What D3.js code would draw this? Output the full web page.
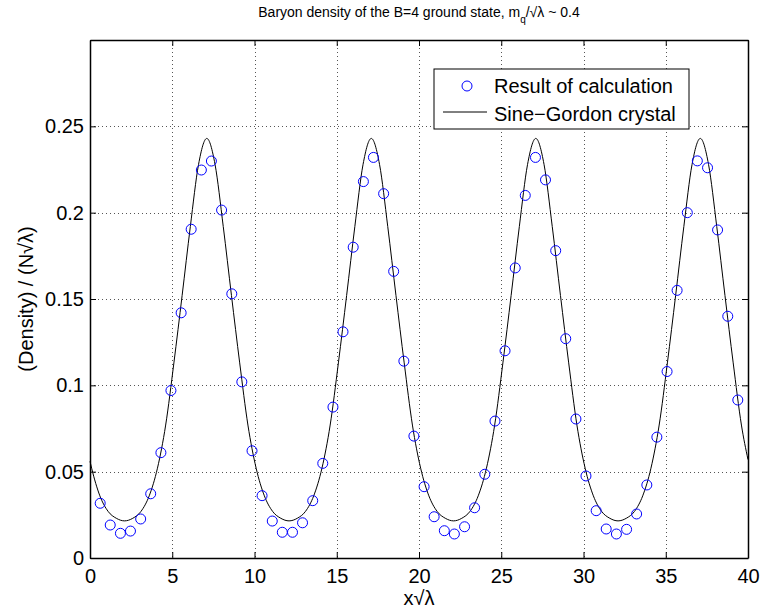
<!DOCTYPE html>
<html>
<head>
<meta charset="utf-8">
<script src="https://cdn.jsdelivr.net/npm/d3@7"></script>
<style>
  body { margin: 0; background: #fff; }
</style>
</head>
<body>
<div id="chart"></div>
<script>
// computed density at the lattice sites (x*sqrt(lambda))
const calcX = [0.62, 1.23, 1.85, 2.46, 3.08, 3.69, 4.31, 4.92, 5.54, 6.15, 6.77, 7.38, 8.0, 8.62, 9.23, 9.85,
  10.46, 11.08, 11.69, 12.31, 12.92, 13.54, 14.15, 14.77, 15.38, 16.0, 16.62, 17.23, 17.85, 18.46, 19.08, 19.69,
  20.31, 20.92, 21.54, 22.15, 22.77, 23.38, 24.0, 24.62, 25.23, 25.85, 26.46, 27.08, 27.69, 28.31, 28.92, 29.54,
  30.15, 30.77, 31.38, 32.0, 32.62, 33.23, 33.85, 34.46, 35.08, 35.69, 36.31, 36.92, 37.54, 38.15, 38.77, 39.38];
const calcDensity = [0.0317, 0.0191, 0.0143, 0.0156, 0.0226, 0.0372, 0.061, 0.097, 0.142, 0.1904, 0.2247, 0.2299, 0.2015, 0.153, 0.102, 0.0621,
  0.0361, 0.0214, 0.0149, 0.0149, 0.0204, 0.0332, 0.0548, 0.0874, 0.131, 0.18, 0.218, 0.232, 0.211, 0.166, 0.114, 0.0706,
  0.0413, 0.0239, 0.0158, 0.0139, 0.0181, 0.0291, 0.0485, 0.0793, 0.12, 0.168, 0.21, 0.232, 0.219, 0.178, 0.127, 0.0805,
  0.0475, 0.0274, 0.0168, 0.0139, 0.0166, 0.0255, 0.0423, 0.07, 0.108, 0.155, 0.2, 0.23, 0.226, 0.19, 0.14, 0.0915];

// sine-gordon crystal curve
const crystalX = [0, 0.1, 0.6, 1.1, 1.6, 2.1, 2.6, 3.1, 3.6, 4.1, 4.6, 5.1, 5.6, 6.1, 6.6, 7.1, 7.6, 8.1, 8.6, 9.1, 9.6,
  10.1, 10.6, 11.1, 11.6, 12.1, 12.6, 13.1, 13.6, 14.1, 14.6, 15.1, 15.6, 16.1, 16.6, 17.1, 17.6, 18.1, 18.6, 19.1, 19.6,
  20.1, 20.6, 21.1, 21.6, 22.1, 22.6, 23.1, 23.6, 24.1, 24.6, 25.1, 25.6, 26.1, 26.6, 27.1, 27.6, 28.1, 28.6, 29.1, 29.6,
  30.1, 30.6, 31.1, 31.6, 32.1, 32.6, 33.1, 33.6, 34.1, 34.6, 35.1, 35.6, 36.1, 36.6, 37.1, 37.6, 38.1, 38.6, 39.1, 39.6, 40];
const crystalDensity = [0.056, 0.052, 0.036, 0.027, 0.023, 0.0215, 0.023, 0.027, 0.036, 0.052, 0.077, 0.113, 0.152, 0.192, 0.228, 0.243, 0.228, 0.192, 0.152, 0.113, 0.077,
  0.052, 0.036, 0.027, 0.023, 0.0215, 0.023, 0.027, 0.036, 0.052, 0.077, 0.113, 0.152, 0.192, 0.228, 0.243, 0.228, 0.192, 0.152, 0.113, 0.077,
  0.052, 0.036, 0.027, 0.023, 0.0215, 0.023, 0.027, 0.036, 0.052, 0.077, 0.113, 0.152, 0.192, 0.228, 0.243, 0.228, 0.192, 0.152, 0.113, 0.077,
  0.052, 0.036, 0.027, 0.023, 0.0215, 0.023, 0.027, 0.036, 0.052, 0.077, 0.113, 0.152, 0.192, 0.228, 0.243, 0.228, 0.192, 0.152, 0.113, 0.077, 0.057];

const xTicks = [0, 5, 10, 15, 20, 25, 30, 35, 40];
const xTickLabels = ["0", "5", "10", "15", "20", "25", "30", "35", "40"];
const yTicks = [0, 0.05, 0.1, 0.15, 0.2, 0.25];
const yTickLabels = ["0", "0.05", "0.1", "0.15", "0.2", "0.25"];
const legendLabels = ["Result of calculation", "Sine\u2212Gordon crystal"];

const font = "'Liberation Sans', Arial, Helvetica, sans-serif";

const margin = { top: 40, right: 15, bottom: 58, left: 90 },
      width = 763 - margin.left - margin.right,
      height = 616 - margin.top - margin.bottom;

const root = d3.select("#chart")
  .append("svg")
  .attr("width", width + margin.left + margin.right)
  .attr("height", height + margin.top + margin.bottom)
  .style("font-family", font);

const svg = root.append("g")
  .attr("transform", `translate(${margin.left},${margin.top})`);

const x = d3.scaleLinear().domain([0, 40]).range([0, width]);
const y = d3.scaleLinear().domain([0, 0.3]).range([height, 0]);

// dotted grid
svg.selectAll(".vgrid")
  .data(xTicks.filter(d => d > 0 && d < 40))
  .enter().append("line")
  .attr("x1", d => Math.round(x(d)) + 0.5)
  .attr("x2", d => Math.round(x(d)) + 0.5)
  .attr("y1", 0)
  .attr("y2", height)
  .attr("stroke", "#555")
  .attr("stroke-dasharray", "1,3");

svg.selectAll(".hgrid")
  .data(yTicks.filter(d => d > 0))
  .enter().append("line")
  .attr("x1", 0)
  .attr("x2", width)
  .attr("y1", d => Math.round(y(d)) + 0.5)
  .attr("y2", d => Math.round(y(d)) + 0.5)
  .attr("stroke", "#555")
  .attr("stroke-dasharray", "1,3");

// crystal curve
const crystal = crystalX.map((v, i) => ({ x: v, d: crystalDensity[i] }));
const line = d3.line()
  .x(d => x(d.x))
  .y(d => y(d.d))
  .curve(d3.curveMonotoneX);

svg.append("path")
  .datum(crystal)
  .attr("d", line)
  .attr("fill", "none")
  .attr("stroke", "black")
  .attr("stroke-width", 1);

// calculation points
svg.selectAll(".pt")
  .data(calcX.map((v, i) => ({ x: v, d: calcDensity[i] })))
  .enter().append("circle")
  .attr("cx", d => x(d.x))
  .attr("cy", d => y(d.d))
  .attr("r", 5)
  .attr("fill", "none")
  .attr("stroke", "#0000ff")
  .attr("stroke-width", 1);

// axes, ticks pointing inward like matlab
function styleAxis(g) {
  g.select(".domain").attr("stroke-width", 1.5);
  g.selectAll("text").style("font-size", "20px").style("font-family", font).attr("fill", "#000");
}

svg.append("g")
  .attr("transform", `translate(0,${height})`)
  .call(d3.axisBottom(x).tickValues(xTicks).tickFormat((d, i) => xTickLabels[i])
    .tickSizeInner(-6).tickSizeOuter(0).tickPadding(11))
  .call(styleAxis);

svg.append("g")
  .call(d3.axisLeft(y).tickValues(yTicks).tickFormat((d, i) => yTickLabels[i])
    .tickSizeInner(-6).tickSizeOuter(0).tickPadding(6))
  .call(styleAxis);

svg.append("g")
  .call(d3.axisTop(x).tickValues(xTicks).tickFormat("").tickSizeInner(-6).tickSizeOuter(0))
  .call(styleAxis);

svg.append("g")
  .attr("transform", `translate(${width},0)`)
  .call(d3.axisRight(y).tickValues(yTicks).tickFormat("").tickSizeInner(-6).tickSizeOuter(0))
  .call(styleAxis);

// title
const title = svg.append("text")
  .attr("x", width / 2)
  .attr("y", -23)
  .attr("text-anchor", "middle")
  .style("font-size", "14px");
title.append("tspan").text("Baryon density of the B=4 ground state, m");
title.append("tspan").attr("dy", 6).style("font-size", "10px").text("q");
title.append("tspan").attr("dy", -6).text("/\u221A\u03BB ~ 0.4");

// axis labels
svg.append("text")
  .attr("x", width / 2)
  .attr("y", height + 47)
  .attr("text-anchor", "middle")
  .style("font-size", "20px")
  .text("x\u221A\u03BB");

svg.append("text")
  .attr("x", -height / 2)
  .attr("y", -margin.left + 33)
  .attr("text-anchor", "middle")
  .attr("transform", "rotate(-90)")
  .style("font-size", "20px")
  .text("(Density) / (N\u221A\u03BB)");

// legend
const legend = svg.append("g")
  .attr("transform", `translate(${width - 314},29)`);

legend.append("rect")
  .attr("x", 0)
  .attr("y", 0)
  .attr("width", 255)
  .attr("height", 60)
  .attr("fill", "white")
  .attr("stroke", "black")
  .attr("stroke-width", 1);

legend.append("circle")
  .attr("cx", 33)
  .attr("cy", 17)
  .attr("r", 5)
  .attr("fill", "none")
  .attr("stroke", "#0000ff");

legend.append("line")
  .attr("x1", 9)
  .attr("x2", 53)
  .attr("y1", 43)
  .attr("y2", 43)
  .attr("stroke", "black");

legendLabels.forEach((lab, i) => {
  legend.append("text")
    .attr("x", 60)
    .attr("y", 24 + i * 28)
    .style("font-size", "20px")
    .text(lab);
});
</script>
</body>
</html>
